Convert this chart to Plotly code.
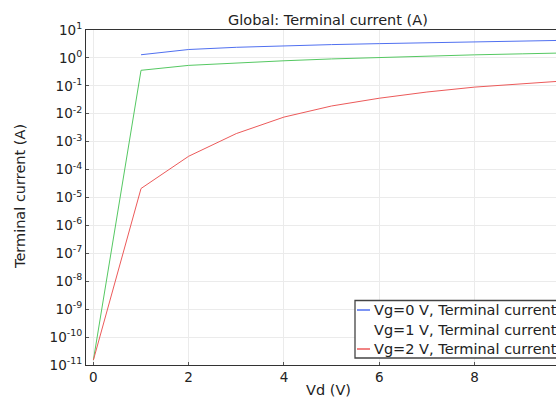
import plotly.graph_objects as go

# Drain voltage sweep (V)
vd = [0, 1, 2, 3, 4, 5, 6, 7, 8, 9, 10]

# Terminal current (A) for each gate voltage
i_vg0 = [None, 1.3, 2.0, 2.4, 2.75, 3.0, 3.25, 3.55, 3.85, 4.05, 4.3]
i_vg1 = [1.5e-11, 0.36, 0.54, 0.66, 0.79, 0.92, 1.05, 1.17, 1.29, 1.40, 1.52]
i_vg2 = [1.5e-11, 2.1e-5, 3.0e-4, 1.95e-3, 7.6e-3, 0.019, 0.036, 0.06, 0.09, 0.119, 0.155]

series_names = [
    "Vg=0 V, Terminal current (A)",
    "Vg=1 V, Terminal current (A)",
    "Vg=2 V, Terminal current (A)",
]
series_colors = ["#5070f0", "#55c862", "#ec5a5a"]

# y tick labels as powers of ten
y_exponents = list(range(-11, 2))
y_tickvals = [10.0 ** k for k in y_exponents]
y_ticktext = ["10<sup>%d</sup>" % k for k in y_exponents]

W, H = 556, 399
ML, MR, MT, MB = 86, 0, 30, 34
FONT = "DejaVu Sans"
TEXT = dict(family=FONT, size=14.5, color="#222222")
TICK = dict(family=FONT, size=13.5, color="#222222")


def px_x(p):
    return (p - ML) / (W - ML - MR)


def px_y(p):
    return (H - MB - p) / (H - MT - MB)


fig = go.Figure()
for ys, name, col in zip([i_vg0, i_vg1, i_vg2], series_names, series_colors):
    fig.add_trace(go.Scatter(
        x=vd, y=ys, mode="lines", name=name,
        line=dict(color=col, width=1),
        showlegend=False, connectgaps=False,
    ))

axis_common = dict(
    showgrid=True, gridcolor="#ebebeb", gridwidth=1,
    showline=True, linecolor="#333333", linewidth=1.2,
    ticks="inside", ticklen=3, tickcolor="#555555",
    tickfont=TICK,
    zeroline=False,
)

fig.update_xaxes(
    range=[-0.155, 9.71], tickvals=[0, 2, 4, 6, 8], mirror=True,
    **axis_common,
)
fig.update_yaxes(
    type="log", range=[-11, 1], tickvals=y_tickvals, ticktext=y_ticktext,
    **axis_common,
)


def label(text, x, y, anchor="center", angle=0):
    return dict(text=text, xref="paper", yref="paper", x=px_x(x), y=px_y(y),
                xanchor=anchor, yanchor="middle", showarrow=False,
                textangle=angle, font=TEXT)


annotations = [
    label("Global: Terminal current (A)", 328, 20),
    label("Vd (V)", 328, 390),
    label("Terminal current (A)", 20, 197, angle=-90),
]

# Legend box drawn by hand: border, swatches and labels
shapes = [
    dict(type="rect", xref="paper", yref="paper",
         x0=px_x(355), x1=px_x(760), y0=px_y(358), y1=px_y(300.5),
         line=dict(color="#444444", width=1.3), fillcolor="white", layer="above"),
]
legend_rows = [310, 329.5, 349]
swatch_colors = [series_colors[0], "rgba(0,0,0,0)", series_colors[2]]
for row_y, name, col in zip(legend_rows, series_names, swatch_colors):
    shapes.append(dict(type="line", xref="paper", yref="paper",
                       x0=px_x(357), x1=px_x(370), y0=px_y(row_y), y1=px_y(row_y),
                       line=dict(color=col, width=1.5), layer="above"))
    annotations.append(label(name, 372, row_y, anchor="left"))

fig.update_layout(
    width=W, height=H,
    margin=dict(l=ML, r=MR, t=MT, b=MB, pad=0, autoexpand=False),
    paper_bgcolor="white", plot_bgcolor="white",
    showlegend=False,
    annotations=annotations, shapes=shapes,
)

fig.write_html("out.html")
